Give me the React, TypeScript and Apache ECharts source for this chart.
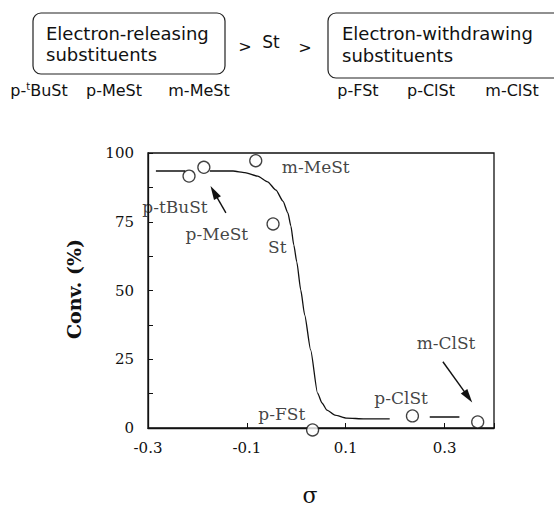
import React, { useEffect, useRef } from "react";
import * as echarts from "echarts";

// Measured points (Hammett sigma vs conversion)
const monomers = ["p-tBuSt", "p-MeSt", "m-MeSt", "St", "p-FSt", "p-ClSt", "m-ClSt"];
const sigma = [-0.217, -0.187, -0.082, -0.047, 0.033, 0.235, 0.367];
const conv = [91.6, 94.8, 97.2, 74.2, -0.7, 4.4, 2.2];

// Hand-drawn trend curve, in three pieces (broken around the circles)
const curveSeg1: [number, number][] = [[-0.284, 93.45], [-0.225, 93.45]];
const curveSeg2: [number, number][] = [
  [-0.175, 93.45], [-0.128, 93.45], [-0.104, 92.9], [-0.078, 91.6], [-0.058, 89.5],
  [-0.041, 86.5], [-0.027, 82.5], [-0.017, 78.2], [-0.011, 73.5], [-0.005, 66.5],
  [0.001, 60.4], [0.009, 50.2], [0.017, 41.1], [0.029, 28.4], [0.043, 12.7],
  [0.052, 9.1], [0.062, 6.5], [0.078, 4.7], [0.102, 3.6], [0.138, 3.3], [0.189, 3.3],
];
const curveSeg3: [number, number][] = [[0.27, 4.0], [0.33, 4.0]];

// Annotation label anchors (data coords), same order as monomers
const annoX = [-0.2455, -0.1606, 0.0394, -0.0384, -0.0293, 0.2121, 0.303];
const annoY = [80.4, 70.5, 94.9, 65.8, 5.1, 10.9, 30.9];

// Arrows (tail -> head centre), data coords
const arrowFrom: [number, number][] = [[-0.1424, 78.2], [0.2966, 24.1]];
const arrowTo: [number, number][] = [[-0.1665, 85.8], [0.3477, 11.3]];

const xTickLabels = ["-0.3", "-0.1", "0.1", "0.3"];
const yTickLabels = ["0", "25", "50", "75", "100"];

const INK = "#111";
const SERIF = '"DejaVu Serif", serif';
const SANS = '"DejaVu Sans", sans-serif';

export default function App() {
  const ref = useRef<HTMLDivElement>(null);
  useEffect(() => {
    document.body.style.margin = "0";
    if (!ref.current) return;
    const chart = echarts.init(ref.current, undefined, { renderer: "svg" });
    const lineSeries = (data: [number, number][]) => ({
      type: "line",
      data,
      symbol: "none",
      smooth: 0.2,
      smoothMonotone: "x",
      lineStyle: { color: INK, width: 1.3 },
      silent: true,
      z: 2,
    });
    const topLabel = (text: string, x: number) => ({
      type: "text",
      x,
      y: 90,
      style: {
        text,
        fill: INK,
        font: `16px ${SANS}`,
        align: "center",
        verticalAlign: "middle",
        rich: {
          sup: { fontSize: 10, fontFamily: SANS, fill: INK, verticalAlign: "top", lineHeight: 18 },
        },
      },
    });
    chart.setOption({
      animation: false,
      backgroundColor: "#fff",
      grid: {
        left: 148,
        right: 60,
        top: 153,
        bottom: 81,
        show: true,
        borderColor: INK,
        borderWidth: 1.3,
      },
      xAxis: {
        type: "value",
        min: -0.3,
        max: 0.4,
        interval: 0.2,
        axisLine: { onZero: false, lineStyle: { color: INK, width: 1.3 } },
        axisTick: { inside: true, length: 5, lineStyle: { color: INK } },
        splitLine: { show: false },
        axisLabel: {
          margin: 12,
          color: INK,
          fontFamily: SERIF,
          fontSize: 15,
          formatter: (v: number) => {
            const s = (Math.round(v * 10) / 10).toFixed(1);
            return xTickLabels.includes(s) ? s : "";
          },
        },
      },
      yAxis: {
        type: "value",
        min: 0,
        max: 100,
        interval: 12.5,
        axisLine: { onZero: false, lineStyle: { color: INK, width: 1.3 } },
        axisTick: { inside: true, length: 5, lineStyle: { color: INK } },
        splitLine: { show: false },
        axisLabel: {
          margin: 14,
          color: INK,
          fontFamily: SERIF,
          fontSize: 15,
          padding: [0, 0, 5, 0],
          formatter: (v: number) => {
            const s = String(Math.round(v * 10) / 10);
            return yTickLabels.includes(s) ? s : "";
          },
        },
      },
      series: [
        lineSeries(curveSeg1),
        lineSeries(curveSeg2),
        lineSeries(curveSeg3),
        {
          type: "scatter",
          data: sigma.map((x, i) => ({ value: [x, conv[i]], name: monomers[i] })),
          symbol: "circle",
          symbolSize: 12,
          clip: false,
          itemStyle: { color: "#fff", borderColor: INK, borderWidth: 1.3 },
          silent: true,
          z: 5,
        },
        {
          type: "scatter",
          data: annoX.map((x, i) => ({ value: [x, annoY[i]], name: monomers[i] })),
          symbolSize: 1,
          clip: false,
          itemStyle: { color: "rgba(0,0,0,0)" },
          silent: true,
          z: 6,
          label: {
            show: true,
            position: "inside",
            formatter: (p: any) => p.name,
            color: INK,
            textBorderWidth: 0,
            textBorderColor: "transparent",
            fontFamily: SERIF,
            fontSize: 17,
          },
          markLine: {
            silent: true,
            symbol: ["none", "triangle"],
            symbolSize: [8, 14],
            lineStyle: { color: INK, width: 1.4, type: "solid" },
            label: { show: false },
            data: arrowFrom.map((f, i) => [{ coord: f }, { coord: arrowTo[i] }]),
          },
        },
      ],
      graphic: [
        {
          type: "rect",
          shape: { x: 33, y: 13, width: 192, height: 61, r: 8 },
          style: { fill: "none", stroke: "#222", lineWidth: 1.2 },
        },
        {
          type: "rect",
          shape: { x: 328, y: 13, width: 240, height: 65, r: 8 },
          style: { fill: "none", stroke: "#222", lineWidth: 1.2 },
        },
        { type: "text", x: 46, y: 33, style: { text: "Electron-releasing", fill: INK, font: `18px ${SANS}`, verticalAlign: "middle" } },
        { type: "text", x: 46, y: 54, style: { text: "substituents", fill: INK, font: `18px ${SANS}`, verticalAlign: "middle" } },
        { type: "text", x: 342, y: 33, style: { text: "Electron-withdrawing", fill: INK, font: `18px ${SANS}`, verticalAlign: "middle" } },
        { type: "text", x: 342, y: 55, style: { text: "substituents", fill: INK, font: `18px ${SANS}`, verticalAlign: "middle" } },
        { type: "text", x: 245, y: 46, style: { text: ">", fill: INK, font: `16px ${SANS}`, align: "center", verticalAlign: "middle" } },
        { type: "text", x: 271, y: 42, style: { text: "St", fill: INK, font: `17px ${SANS}`, align: "center", verticalAlign: "middle" } },
        { type: "text", x: 305, y: 47, style: { text: ">", fill: INK, font: `16px ${SANS}`, align: "center", verticalAlign: "middle" } },
        topLabel("p-{sup|t}BuSt", 39),
        topLabel("p-MeSt", 114),
        topLabel("m-MeSt", 199),
        topLabel("p-FSt", 358),
        topLabel("p-ClSt", 431),
        topLabel("m-ClSt", 512),
        {
          type: "text",
          x: 74,
          y: 289,
          rotation: Math.PI / 2,
          style: { text: "Conv. (%)", fill: INK, font: `bold 19px ${SERIF}`, align: "center", verticalAlign: "middle" },
        },
        {
          type: "text",
          x: 310,
          y: 495,
          style: { text: "σ", fill: INK, font: `22px ${SERIF}`, align: "center", verticalAlign: "middle" },
        },
      ],
    });
    return () => chart.dispose();
  }, []);
  return <div ref={ref} style={{ width: 554, height: 509 }} />;
}
